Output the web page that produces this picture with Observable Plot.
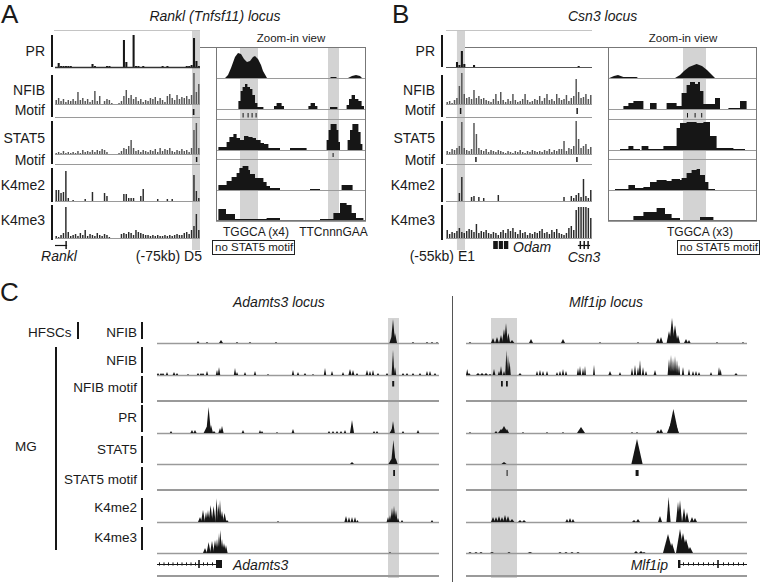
<!DOCTYPE html>
<html><head><meta charset="utf-8">
<script src="https://cdn.jsdelivr.net/npm/d3@7"></script>
<script src="https://cdn.jsdelivr.net/npm/@observablehq/plot@0.6"></script>
<style>
body{margin:0;background:#fff}
#fig{position:relative;width:762px;height:582px;overflow:hidden;font-family:"Liberation Sans",Arial,sans-serif;color:#1a1a1a;background:#fff}
.t{position:absolute;white-space:nowrap;line-height:1}
.d{position:absolute}
</style></head><body><div id="fig"></div><script>
// ================= DATA =================
// Panel A / B main browser tracks: signal per bin (60 bins across locus)
const A_PR    = [0,4,1,1,1,1,1,0,0,0, 0,0,0,0,0,3,1,0,0,0, 0,1,1,0,0,0,0,0,27,5, 0,0,32,1,1,0,1,0,0,0, 0,0,0,0,1,0,1,0,0,0, 0,0,0,0,1,1,2,29,6,1];
const A_NFIB  = [4,6,3,5,2,4,3,5,3,12, 4,6,3,5,2,4,13,3,8,0, 3,5,4,1,0,0,1,3,8,14, 6,9,5,7,3,5,2,4,3,6, 5,7,3,6,4,2,8,10,6,4, 9,5,7,6,8,5,9,31,12,20];
const A_STAT5 = [1,2,1,3,1,2,1,2,1,3, 1,4,2,3,2,4,2,4,3,5, 4,2,0,0,0,0,1,3,6,5, 8,14,6,3,4,2,4,3,2,4, 3,5,2,6,3,5,4,6,3,2, 4,3,5,3,4,2,6,24,31,6];
const A_K4me2 = [11,11,8,9,30,3,0,1,0,0, 0,0,2,0,0,9,0,0,0,0, 8,5,0,0,0,0,0,0,7,7, 3,3,3,0,0,5,12,0,0,0, 0,0,2,0,0,0,2,0,2,0, 0,0,0,0,0,0,0,26,10,3];
const A_K4me3 = [2,1,3,5,31,6,2,3,4,2, 5,3,8,2,4,3,2,5,3,2, 4,3,1,0,0,0,0,4,5,4, 6,5,3,8,6,5,4,3,3,2, 3,2,3,2,2,3,2,3,2,3, 4,3,3,5,6,4,8,12,24,8];
const A_NFIB_motif  = [[57.0,57.7]];
const A_STAT5_motif = [[58.3,58.9]];
const A_band = [[56.7,60]];
const RANKL_span = [[0,5]], RANKL_exons = [[4.3,4.9]];

const B_PR    = [0,0,0,0,5,2,16,3,0,0, 0,2,0,0,0,0,0,0,0,0, 0,0,0,0,0,0,0,0,0,0, 0,0,0,0,0,0,0,0,0,0, 0,0,0,0,0,0,0,0,0,0, 0,0,0,0,1,0,0,0,0,0];
const B_NFIB  = [2,3,1,4,6,18,31,10,6,7, 5,14,6,8,5,6,4,3,2,5, 10,3,12,4,2,5,3,10,4,2, 3,5,10,4,2,3,5,4,8,3, 6,10,4,5,3,10,6,4,5,9, 3,6,8,25,12,6,7,10,5,9];
const B_STAT5 = [3,2,5,4,6,8,32,6,4,3, 5,31,20,6,4,3,5,2,4,3, 2,4,3,2,1,3,2,1,3,2, 4,2,1,3,2,4,3,2,3,2, 4,3,5,2,4,3,5,5,13,3, 6,5,8,33,15,6,8,10,5,7];
const B_K4me2 = [0,0,0,0,0,8,24,0,0,0, 4,5,0,4,0,3,0,0,0,0, 0,6,0,0,0,0,0,0,0,0, 0,0,0,0,0,0,0,0,0,0, 0,0,0,0,0,0,0,0,4,0, 0,5,3,6,8,4,22,5,3,11];
const B_K4me3 = [8,4,6,5,7,10,6,5,7,9, 8,6,14,5,7,6,8,5,4,6, 5,3,6,8,5,9,7,10,6,4, 8,5,6,3,5,4,6,5,7,9, 5,6,4,8,6,9,5,4,3,5, 10,12,8,28,31,31,31,31,30,20];
const B_NFIB_motif  = [[5.7,6.3],[53.6,54.2]];
const B_STAT5_motif = [[12.0,12.6],[53.5,54.1]];
const B_band = [[4.5,7.8]];
const ODAM_exons = [[19.4,21.3],[21.7,23.4],[23.8,25.6]];
const CSN3_span = [[54.2,59.2]], CSN3_exons = [[54.9,55.5],[56.5,57.1],[58.1,58.7]];

// Zoom-in views: profiles [position, signal]
const AZ_PR    = [[0,0],[4.5,0],[6,3],[7.5,10],[9.5,21],[11,25],[12.5,24],[14,19],[15.5,16],[17,17],[18.5,21],[19.5,22],[21,19],[22.5,13],[23.5,7],[25.5,0],[57,0],[57.5,1],[60,1],[60.5,0],[66,0],[68,2],[70,3],[72,2],[73,0],[75,0]];
const AZ_NFIB  = [[0,0],[11.2,8],[12.3,18],[13.3,22],[14.5,25],[15.7,22],[17,20],[18.2,14],[19.5,6],[20.7,2],[23.7,0],[29,3],[30.3,6],[32.8,3],[34,0],[46.2,3],[47.3,6],[49.5,3],[50.7,0],[57,2],[60.7,0],[65.3,4],[66.5,10],[67.8,14],[69.5,10],[71.2,8],[72.8,3],[74,0],[75,0]];
const AZ_STAT5 = [[0,0],[1.2,3],[5.3,8],[6.7,13],[8.7,16],[10.3,12],[12,10],[14,14],[16.2,13],[18.3,12],[20,10],[22.3,7],[24,6],[26.2,2],[32,0],[37,2],[45.3,0],[55.3,10],[56.3,20],[57.3,26],[60.3,20],[61.2,8],[62,0],[65.8,10],[67,20],[68.2,26],[71.2,18],[72.3,6],[73.2,0],[75,0]];
const AZ_K4me2 = [[0,0],[1.2,5],[5.3,9],[7.8,13],[10.3,17],[11.7,22],[13.3,24],[16.2,20],[17,16],[19.5,12],[23.7,8],[25.3,4],[27,2],[32,0],[47,1],[52,0],[62.8,5],[68.3,0],[75,0]];
const AZ_K4me3 = [[0,0],[1.2,12],[5,7],[9.5,2],[25.3,3],[32,0],[37,1],[47,0],[52,2],[58.7,8],[62,18],[65.3,16],[67.8,8],[70,3],[73.7,0],[75,0]];
const AZ_NFIB_motif  = [[13.3,13.8],[15.8,16.3],[17.8,18.3],[19.8,20.3]];
const AZ_STAT5_motif = [[58.3,58.8]];
const AZ_bands = [[12,21],[56,61.5]];

const BZ_PR    = [[0,0],[0.7,0],[3,2],[5,3],[7.7,1],[14.3,1],[15,0],[33.5,0],[36,3],[38,7],[40.5,11],[44.3,14],[47,12],[49.5,8],[51.5,4],[53.5,0],[74.5,0]];
const BZ_NFIB  = [[0,0],[7.7,3],[10.2,6],[12.7,8],[17.7,0],[21,6],[24.3,0],[29.3,6],[34.3,3],[36.8,16],[39.3,24],[41,27],[43.5,25],[45,27],[46,18],[47.7,5],[53.5,11],[56,0],[60.2,1],[66,8],[69.3,0],[74.5,0]];
const BZ_STAT5 = [[0,0],[6,1],[10.2,4],[12.7,1],[16,0],[16.8,4],[20.2,1],[27.7,4],[34.3,22],[36,27],[39.3,28],[44.3,27],[47.7,28],[51,14],[54.3,2],[62.7,1],[68.5,0],[74.5,0]];
const BZ_K4me2 = [[0,0],[3.5,1],[10.2,5],[13.5,2],[17.7,3],[21,8],[24.3,10],[29.3,9],[31.8,11],[36,10],[36.8,12],[39.3,17],[41.8,20],[44.3,21],[46,15],[48.5,8],[50.2,1],[53.5,0],[74.5,0]];
const BZ_K4me3 = [[0,0],[1.8,1],[12.7,5],[17.7,9],[24.3,13],[28.5,7],[31.8,3],[36,1],[46,4],[52.7,1],[66,0],[74.5,0]];
const BZ_NFIB_motif = [[39.5,40],[43.3,43.8],[46.6,47.1]];
const BZ_bands = [[37.5,49]];

// Panel C: peaks [center, height, half-width]
const CL_HFSC_NFIB = [[20.5,2,0.7],[25,1,0.6],[32,3,1],[40,1,0.6],[46.5,1,0.6],[59.5,1,0.6],[117.2,6,1],[118,24,1.1],[119,10,1],[128,1,0.6],[135,1,0.6],[137.5,1,0.6],[140,1,0.5]];
const CL_NFIB = [[0.5,2,0.6],[2,2,0.6],[3,2,0.6],[5,3,0.6],[8.5,3,0.7],[10,2,0.6],[15.5,1,0.5],[20.5,2,0.6],[22,2,0.6],[23,2,0.6],[25,4,0.6],[30,5,0.6],[31,8,0.6],[39,7,0.6],[40,3,0.6],[44,3,0.6],[49,4,0.6],[55.5,1,0.5],[68,5,0.6],[70.5,3,0.6],[74,2,0.6],[78,1,0.5],[84,7,0.6],[87.5,4,0.6],[93,3,0.6],[96.5,6,0.8],[98,5,0.7],[100,2,0.6],[105,5,0.7],[106.5,4,0.6],[108,5,0.6],[110.5,2,0.6],[115,2,0.6],[118,25,0.7],[119,8,0.6],[123,2,0.6],[125,2,0.6],[128,2,0.6],[131.5,2,0.6],[135,4,0.6],[136.5,4,0.6],[139,2,0.6]];
const CL_NFIB_motif = [[117.6,118.6]];
const CL_PR = [[7,2,0.6],[17.5,3,0.8],[19,3,0.8],[24.8,6,1.5],[25.8,26,1.2],[27,8,1],[28.5,2,0.8],[31.5,5,0.8],[32.5,7,0.8],[43,3,0.7],[51.5,3,0.6],[52.5,2,0.6],[60,1,0.5],[68,4,0.7],[86,2,0.6],[88,2,0.6],[90,2,0.6],[92,2,0.6],[94,3,0.6],[97.5,13,1],[108.5,2,0.6],[110,2,0.6],[117.5,4,1.2],[118,12,0.9],[123,2,0.6],[130.5,3,0.7]];
const CL_STAT5 = [[97.5,2,1],[117.2,5,1.5],[118.2,24,1.2],[119.3,6,1]];
const CL_STAT5_motif = [[118.1,119]];
const CL_K4me2 = [[21.5,5,1],[23,12,1],[24.5,10,0.8],[25.5,12,0.8],[26.8,17,1],[28.3,16,1],[29.8,24,0.7],[30.7,18,0.7],[31.5,22,0.7],[32.5,11,0.9],[33.8,9,0.9],[35,2,0.8],[60.5,1,0.5],[94.5,6,0.8],[96,5,0.7],[97.5,5,0.7],[99,5,0.7],[100.2,2,0.6],[115.5,5,0.7],[116.5,7,0.7],[117.5,14,0.8],[118.5,16,0.8],[119.5,12,0.8],[120.5,4,0.7],[122.5,2,0.6],[137.5,2,0.6]];
const CL_K4me3 = [[24,5,1],[25.8,11,1],[27.5,12,1],[29,13,1],[30,14,0.8],[31,20,0.7],[31.7,23,0.7],[32.5,14,0.8],[33.5,10,1],[34.5,8,0.8],[116.5,1,0.5]];
const CL_band = [[115.5,121]];
const ADAMTS3_span = [[0,32.5]], ADAMTS3_exons = [[20.6,21.4],[29.5,32.5]];
const ADAMTS3_marks = [1,3.25,5.5,7.75,10,12.25,14.5,16.75,19,23,25,27.5];

const CR_HFSC_NFIB = [[2,1,0.6],[13.5,5,1],[15.5,6,1],[17.5,8,1],[19,14,1],[20,20,0.9],[21.2,10,0.9],[23,3,1.2],[32.5,4,1],[48.5,4,1],[67,1,0.5],[86,1,0.5],[96,5,1],[97.5,6,1],[101.5,12,1.2],[103,25,1.3],[104.5,18,1.3],[106,8,1],[110,4,1],[111.5,3,0.8],[125.5,1,0.5],[138.5,1,0.5]];
const CR_NFIB = [[0.6,6,0.6],[1.5,2,0.8],[6,2,1],[8,2,1],[10,2,1],[12,1,0.8],[14,6,0.7],[16.5,4,0.6],[17.5,9,0.7],[19,4,0.6],[20.2,25,0.6],[21,20,0.6],[21.8,14,0.6],[27,2,0.8],[35.5,4,0.6],[37,5,0.6],[38.5,4,0.6],[40.5,4,0.6],[45.5,3,0.6],[47,4,0.6],[48.5,6,0.6],[50,4,0.6],[56,7,0.6],[57,9,0.6],[58.5,7,0.6],[59.5,9,0.5],[64,10,0.5],[72,4,0.8],[77,3,0.6],[83,7,0.6],[84.5,10,0.6],[86,8,0.6],[87,15,0.6],[88.5,8,0.6],[90,4,0.6],[94.5,5,0.7],[101.5,16,0.7],[102.5,20,0.6],[103.5,17,0.6],[104.5,19,0.6],[105.5,15,0.6],[106.5,10,0.6],[108.5,8,0.6],[111.5,6,0.6],[113.5,4,0.6],[115,4,0.6],[116.5,3,0.6],[122.5,3,0.6],[126.5,8,0.6],[127.3,6,0.5],[135,2,0.8]];
const CR_NFIB_motif = [[17.5,18.4],[20,20.9]];
const CR_PR = [[2,1,0.5],[15,2,0.8],[17.5,4,1.5],[19,7,2],[20.5,4,1],[28.5,1,0.5],[40.5,1,0.5],[48.5,1,0.5],[57.5,6,2],[83,1,0.5],[85.5,1,0.5],[96,3,1],[97.5,4,1],[102.5,10,2],[103.7,24,2.5],[105,8,1.5]];
const CR_STAT5 = [[19,2,1.3],[85.5,25,2.8]];
const CR_STAT5_motif = [[20.3,20.8],[84.8,86.3]];
const CR_K4me2 = [[13.5,5,1],[15,5,1],[16.5,6,1],[18,5,1],[19.5,7,1],[21,6,1],[23,3,1.2],[27,2,1],[29,2,1],[50.5,3,0.8],[52,4,0.8],[53.5,3,0.8],[84,2,1],[86,3,1],[97,6,1],[101.3,25,1],[106,20,1],[107,22,1],[109,14,1],[110.5,10,1],[113,5,1],[114.5,4,1]];
const CR_K4me3 = [[2,1,0.8],[5,1,0.8],[7.5,1,0.8],[13,1,1],[21.5,1,0.8],[32,1,1.2],[47,1,0.8],[50,1,0.8],[53,1,0.8],[56,1,0.8],[85,2,1],[87.5,2,1],[89,1,0.8],[101,19,2.5],[103,10,1.5],[107,24,2],[108.5,20,2],[110,14,2],[112,6,1.5]];
const CR_band = [[12.5,25.5]];
const MLF1IP_span = [[106,140.5]], MLF1IP_exons = [[106,107.2],[125.6,126.4]];
const MLF1IP_marks = [108.5,111,113.5,116,118.5,121,123.5,128.5,131,133.5,136,138.5];

// ================= HELPERS =================
const fig = document.getElementById("fig");
const INK = "#161616", LINE = "#9a9a9a", BAND = "#d3d3d3";

function place(opts, left, top) {
  const svg = Plot.plot(Object.assign({margin:0, style:{background:"transparent", overflow:"visible"}}, opts));
  svg.style.position = "absolute"; svg.style.left = left + "px"; svg.style.top = top + "px";
  fig.append(svg);
}
function box(x, y, w, h, css) {
  const d = document.createElement("div"); d.className = "d";
  Object.assign(d.style, {left:x+"px", top:y+"px", width:w+"px", height:h+"px"}, css || {});
  fig.append(d); return d;
}
const hl = (x1, x2, y, c = LINE, w = 1) => box(x1, y - w/2, x2 - x1, w, {background:c});
const vl = (x, y1, y2, c = INK, w = 2) => box(x - w/2, y1, w, y2 - y1, {background:c});
function label(s, x, yc, o = {}) {
  const size = o.size || 14, lh = o.lh || 1;
  const capMid = ((lh - 1.117) / 2 + 0.905 - 0.358) * size;
  const d = document.createElement("div"); d.className = "t"; d.textContent = s;
  Object.assign(d.style, {fontSize:size+"px", lineHeight:String(lh), top:(yc - capMid)+"px", fontStyle:o.italic?"italic":"normal"});
  if (o.align === "right") d.style.right = (762 - x) + "px";
  else if (o.align === "center") { d.style.left = x + "px"; d.style.transform = "translateX(-50%)"; }
  else d.style.left = x + "px";
  if (o.boxed) Object.assign(d.style, {border:"1px solid #222", padding:"1px 1px 0 2px"});
  fig.append(d); return d;
}
function band(bands, left, width, domain, y1, y2) {
  place({width, height:y2-y1, x:{domain, axis:null}, y:{domain:[0,1], axis:null},
    marks:[Plot.rect(bands, {x1:d=>d[0], x2:d=>d[1], y1:0, y2:1, fill:BAND})]}, left, y1);
}
function binTrack(vals, left, width, base, o = {}) {
  const H = 34, data = vals.map((v, i) => ({i, v})).filter(d => d.v > 0);
  const marks = [];
  if (o.bars) marks.push(Plot.rect(data, {x1:d=>d.i+0.1, x2:d=>d.i+0.95, y1:0, y2:"v", fill:INK}));
  else marks.push(Plot.rect(data, {x1:d=>d.i+0.2, x2:d=>d.i+0.8, y1:0, y2:"v", fill:o.color||"#2a2a2a"}));
  marks.push(Plot.ruleY([0], {stroke:o.base||LINE, strokeWidth:o.baseW||1}));
  place({width, height:H, x:{domain:[0,60], axis:null}, y:{domain:[0,H], axis:null}, marks}, left, base - H);
}
function motifRow(ivals, left, width, domain, y1, y2) {
  place({width, height:y2-y1, x:{domain, axis:null}, y:{domain:[0,1], axis:null},
    marks:[Plot.rect(ivals, {x1:d=>d[0], x2:d=>d[1], y1:0, y2:1, fill:INK})]}, left, y1);
}
function profile(pts, left, width, domain, base, H, curve) {
  place({width, height:H, x:{domain, axis:null}, y:{domain:[0,H], axis:null},
    marks:[Plot.area(pts, {x1:d=>d[0], y1:0, y2:d=>d[1], curve, fill:INK}), Plot.ruleY([0], {stroke:LINE})]}, left, base - H);
}
function peakTrack(peaks, left, width, domain, base, H = 28) {
  const pts = peaks.flatMap(([c, h, w], k) => [{k, x:c-w, y:0}, {k, x:c, y:h}, {k, x:c+w, y:0}]);
  place({width, height:H, x:{domain, axis:null}, y:{domain:[0,H], axis:null},
    marks:[Plot.ruleY([0], {stroke:LINE, strokeWidth:1.5}), Plot.area(pts, {x1:"x", y1:0, y2:"y", z:"k", fill:INK})]}, left, base - H);
}
function gene(left, width, domain, yc, span, exons, marks, o = {}) {
  const H = 12, ms = [];
  if (span) ms.push(Plot.ruleY(span, {x1:d=>d[0], x2:d=>d[1], y:0, stroke:INK, strokeWidth:1.2}));
  if (marks) ms.push(Plot.ruleX(marks, {x:d=>d, y1:-1.6, y2:1.6, stroke:INK, strokeWidth:1}));
  ms.push(Plot.rect(exons, {x1:d=>d[0], x2:d=>d[1], y1:-(o.eh||4), y2:(o.eh||4), fill:INK}));
  place({width, height:H, x:{domain, axis:null}, y:{domain:[-6,6], axis:null}, marks:ms}, left, yc - H/2);
}

// ================= PANEL A =================
label("A", 1, 14.5, {size:26, lh:0.8});
label("Rankl (Tnfsf11) locus", 215, 16, {italic:true, align:"center"});
band(A_band, 55, 145, [0,60], 30, 250);
hl(54, 200, 30, "#c4c4c4", 1);
binTrack(A_PR, 55, 145, 67, {bars:true, base:"#333", baseW:1.6});
binTrack(A_NFIB, 55, 145, 104, {color:"#555"});
motifRow(A_NFIB_motif, 55, 145, [0,60], 109, 115); hl(55, 200, 117);
binTrack(A_STAT5, 55, 145, 154, {color:"#555"});
motifRow(A_STAT5_motif, 55, 145, [0,60], 157, 162); hl(55, 200, 164);
binTrack(A_K4me2, 55, 145, 201);
binTrack(A_K4me3, 55, 145, 238);
gene(55, 145, [0,60], 245, RANKL_span, RANKL_exons);
label("Rankl", 59, 256, {italic:true, align:"center"});
label("(-75kb) D5", 202, 256, {align:"right"});
const trackNamesAB = [["PR",51],["NFIB",90],["Motif",110],["STAT5",138],["Motif",160],["K4me2",185],["K4me3",220]];
const barsAB = [[35,67],[75,117],[121,164],[168,202],[205,240]];
for (const [s, y] of trackNamesAB) label(s, 45, y, {align:"right"});
for (const [y1, y2] of barsAB) vl(52, y1, y2);
// zoom box A
hl(200, 216, 47, "#777");
label("Zoom-in view", 291, 38.5, {size:11.5, align:"center"});
band(AZ_bands, 216, 150, [0,75], 47, 222);
profile(AZ_PR, 216, 150, [0,75], 78, 31, "linear");
profile(AZ_NFIB, 216, 150, [0,75], 109, 31, "step-after");
motifRow(AZ_NFIB_motif, 216, 150, [0,75], 112.5, 117);
hl(216, 366, 119);
profile(AZ_STAT5, 216, 150, [0,75], 150, 31, "step-after");
motifRow(AZ_STAT5_motif, 216, 150, [0,75], 153, 157);
hl(216, 366, 159);
profile(AZ_K4me2, 216, 150, [0,75], 190, 31, "step-after");
profile(AZ_K4me3, 216, 150, [0,75], 221, 31, "step-after");
box(216, 47, 150, 174, {border:"1px solid #777", boxSizing:"border-box"});
label("TGGCA (x4)", 256, 231.5, {size:12, align:"center"});
label("TTCnnnGAA", 333.5, 231.5, {size:12, align:"center"});
label("no STAT5 motif", 212, 246, {size:11.5, boxed:true});

// ================= PANEL B =================
label("B", 392, 14.5, {size:26, lh:0.8});
label("Csn3 locus", 568, 16, {italic:true});
band(B_band, 446, 146, [0,60], 30, 250);
hl(446, 592, 30, "#c4c4c4", 1);
binTrack(B_PR, 446, 146, 67, {bars:true, base:"#555", baseW:1.2});
binTrack(B_NFIB, 446, 146, 104, {color:"#555"});
motifRow(B_NFIB_motif, 446, 146, [0,60], 108, 114); hl(446, 592, 117);
binTrack(B_STAT5, 446, 146, 154, {color:"#555"});
motifRow(B_STAT5_motif, 446, 146, [0,60], 157, 162); hl(446, 592, 164);
binTrack(B_K4me2, 446, 146, 201);
binTrack(B_K4me3, 446, 146, 238);
gene(446, 146, [0,60], 245, null, ODAM_exons, null);
gene(446, 146, [0,60], 245, CSN3_span, CSN3_exons, null);
label("Odam", 513, 246.5, {italic:true});
label("Csn3", 584, 256.5, {italic:true, align:"center"});
label("(-55kb) E1", 475, 256, {align:"right"});
for (const [s, y] of trackNamesAB) label(s, 435, y, {align:"right"});
for (const [y1, y2] of barsAB) vl(442, y1, y2);
hl(465, 608, 47, "#777");
label("Zoom-in view", 683, 38.5, {size:11.5, align:"center"});
band(BZ_bands, 608, 149, [0,74.5], 47, 222);
profile(BZ_PR, 608, 149, [0,74.5], 78, 31, "linear");
profile(BZ_NFIB, 608, 149, [0,74.5], 109, 31, "step-after");
motifRow(BZ_NFIB_motif, 608, 149, [0,74.5], 112.5, 117);
hl(608, 757, 119);
profile(BZ_STAT5, 608, 149, [0,74.5], 150, 31, "step-after");
hl(608, 757, 159);
profile(BZ_K4me2, 608, 149, [0,74.5], 190, 31, "step-after");
profile(BZ_K4me3, 608, 149, [0,74.5], 221, 31, "step-after");
box(608, 47, 149, 174, {border:"1px solid #777", boxSizing:"border-box"});
label("TGGCA (x3)", 700, 231.5, {size:12, align:"center"});
label("no STAT5 motif", 760, 246, {size:11.5, boxed:true, align:"right"});

// ================= PANEL C =================
label("C", 0, 292, {size:26, lh:0.8});
label("Adamts3 locus", 233, 302, {italic:true});
label("Mlf1ip locus", 606, 302, {italic:true, align:"center"});
band(CL_band, 157, 282, [0,141], 318, 578);
band(CR_band, 466, 281, [0,140.5], 318, 578);
const cRows = [
  ["HFSC_NFIB", 343], ["NFIB", 375], ["PR", 433], ["STAT5", 464], ["K4me2", 522], ["K4me3", 553]
];
const CL = {HFSC_NFIB:CL_HFSC_NFIB, NFIB:CL_NFIB, PR:CL_PR, STAT5:CL_STAT5, K4me2:CL_K4me2, K4me3:CL_K4me3};
const CR = {HFSC_NFIB:CR_HFSC_NFIB, NFIB:CR_NFIB, PR:CR_PR, STAT5:CR_STAT5, K4me2:CR_K4me2, K4me3:CR_K4me3};
for (const [k, base] of cRows) {
  peakTrack(CL[k], 157, 282, [0,141], base);
  peakTrack(CR[k], 466, 281, [0,140.5], base);
}
for (const y of [401, 490, 576]) { hl(157, 439, y, LINE, 1.5); hl(466, 747, y, LINE, 1.5); }
motifRow(CL_NFIB_motif, 157, 282, [0,141], 381, 386.5);
motifRow(CR_NFIB_motif, 466, 281, [0,140.5], 381, 386.5);
motifRow(CL_STAT5_motif, 157, 282, [0,141], 470, 476);
motifRow(CR_STAT5_motif, 466, 281, [0,140.5], 470, 476);
gene(157, 282, [0,141], 564, ADAMTS3_span, ADAMTS3_exons, ADAMTS3_marks);
gene(466, 281, [0,140.5], 564, MLF1IP_span, MLF1IP_exons, MLF1IP_marks);
label("Adamts3", 233, 565, {italic:true});
label("Mlf1ip", 668, 565, {italic:true, align:"right"});
vl(452.5, 296, 582, "#555", 1.5);
const cNames = [["NFIB",333],["NFIB",361],["NFIB motif",388],["PR",418],["STAT5",450],["STAT5 motif",480],["K4me2",508],["K4me3",538]];
const cBars = [[322,339],[347,373],[376,403],[405,432],[436,463],[467,490],[498,520],[527,550]];
for (const [s, y] of cNames) label(s, 137, y, {size:13.5, align:"right"});
for (const [y1, y2] of cBars) vl(142, y1, y2);
label("HFSCs", 28, 333, {size:13.5});
vl(77.5, 322, 339);
label("MG", 15, 447, {size:13.5});
vl(56, 347, 550);
</script></body></html>
